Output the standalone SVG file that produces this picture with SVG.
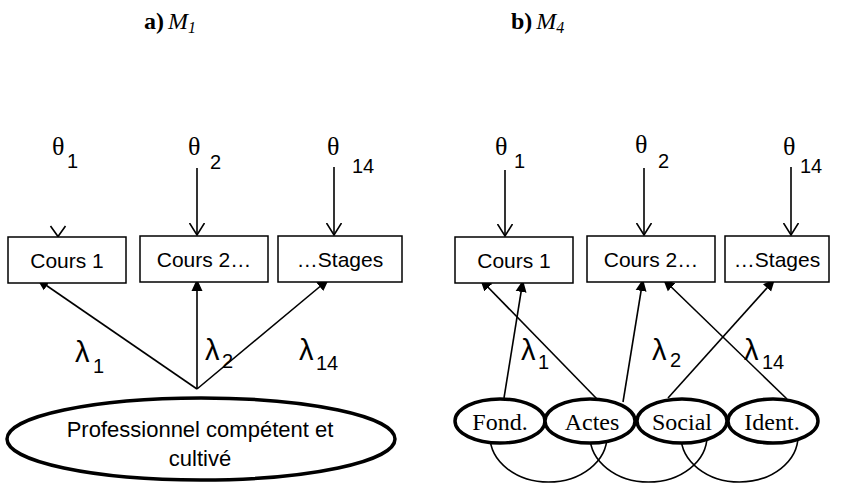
<svg xmlns="http://www.w3.org/2000/svg" width="847" height="483" viewBox="0 0 847 483">
<style>
.box{fill:#fff;stroke:#000;stroke-width:1.5}
.lat{fill:#fff;stroke:#000;stroke-width:3.5}
.ln{stroke:#000;stroke-width:1.6;fill:none}
.sans{font-family:"Liberation Sans",Arial,sans-serif;fill:#000}
.serif{font-family:"Liberation Serif","Times New Roman",serif;fill:#000}
.bt{font-size:21px;text-anchor:middle}
.th{font-size:26px}
.lam{font-size:29px}
.sub{font-size:20px}
.lt{font-size:22px;text-anchor:middle}
.st{font-size:24px;text-anchor:middle}
.title{font-size:24px}
</style>
<defs>
<marker id="open" markerWidth="16" markerHeight="16" refX="12" refY="8" orient="auto" markerUnits="userSpaceOnUse">
<path d="M0,0.5 L12,8 L0,15.5" fill="none" stroke="#000" stroke-width="1.6"/>
</marker>
<marker id="fill" markerWidth="14" markerHeight="12" refX="12" refY="6" orient="auto" markerUnits="userSpaceOnUse">
<path d="M0,0.5 L12,6 L0,11.5 Z" fill="#000"/>
</marker>
</defs>

<g id="titles">
<text class="serif title" x="144" y="29"><tspan font-weight="bold">a)</tspan><tspan font-style="italic" dx="4">M</tspan><tspan font-style="italic" font-size="16" dy="4">1</tspan></text>
<text class="serif title" x="511" y="29"><tspan font-weight="bold">b)</tspan><tspan font-style="italic" dx="4">M</tspan><tspan font-style="italic" font-size="16" dy="4">4</tspan></text>
</g>

<g id="connectors">
<polyline class="ln" points="50.5,226 58,236.5 65.5,226"/>
<line class="ln" x1="197" y1="168" x2="197" y2="235" marker-end="url(#open)"/>
<line class="ln" x1="334" y1="167" x2="334" y2="235" marker-end="url(#open)"/>
<line class="ln" x1="197" y1="389" x2="37" y2="279" marker-end="url(#fill)"/>
<line class="ln" x1="197" y1="389" x2="197" y2="279" marker-end="url(#fill)"/>
<line class="ln" x1="197" y1="389" x2="329" y2="279" marker-end="url(#fill)"/>
<line class="ln" x1="505" y1="170" x2="505" y2="236" marker-end="url(#open)"/>
<line class="ln" x1="644" y1="168" x2="644" y2="235" marker-end="url(#open)"/>
<line class="ln" x1="791" y1="167" x2="791" y2="235" marker-end="url(#open)"/>
<line class="ln" x1="504" y1="398" x2="523" y2="280" marker-end="url(#fill)"/>
<line class="ln" x1="597" y1="399" x2="480" y2="279" marker-end="url(#fill)"/>
<line class="ln" x1="623" y1="402" x2="643" y2="279" marker-end="url(#fill)"/>
<line class="ln" x1="668" y1="398" x2="775" y2="279" marker-end="url(#fill)"/>
<line class="ln" x1="787" y1="399" x2="663" y2="279" marker-end="url(#fill)"/>
<path class="ln" d="M490,436 A58.5,46 0 0 0 607,436"/>
<path class="ln" d="M590,436 A58.5,46 0 0 0 707,436"/>
<path class="ln" d="M681,436 A58.5,46 0 0 0 798,436"/>
</g>

<g id="labels">
<text class="serif th" x="52" y="155">θ</text><text class="sans sub" x="67" y="168">1</text>
<text class="serif th" x="188" y="155">θ</text><text class="sans sub" x="210" y="169">2</text>
<text class="serif th" x="327" y="155">θ</text><text class="sans sub" x="352" y="173">14</text>
<text class="serif th" x="495" y="155">θ</text><text class="sans sub" x="514" y="168">1</text>
<text class="serif th" x="635" y="153">θ</text><text class="sans sub" x="658" y="168">2</text>
<text class="serif th" x="783" y="155">θ</text><text class="sans sub" x="800" y="173">14</text>

<text class="sans lam" x="75" y="362">λ</text><text class="sans sub" x="93" y="373">1</text>
<text class="sans lam" x="205" y="360">λ</text><text class="sans sub" x="222" y="368">2</text>
<text class="sans lam" x="299" y="360">λ</text><text class="sans sub" x="316" y="370">14</text>
<text class="sans lam" x="521" y="360">λ</text><text class="sans sub" x="538" y="369">1</text>
<text class="sans lam" x="652" y="360">λ</text><text class="sans sub" x="670" y="367">2</text>
<text class="sans lam" x="744" y="360">λ</text><text class="sans sub" x="762" y="369">14</text>
</g>

<g id="a-cours1"><rect class="box" x="8" y="237" width="118" height="46"/><text class="sans bt" x="67" y="268">Cours 1</text></g>
<g id="a-cours2"><rect class="box" x="140" y="236" width="128" height="46"/><text class="sans bt" x="204" y="267">Cours 2…</text></g>
<g id="a-stages"><rect class="box" x="278" y="236" width="124" height="46"/><text class="sans bt" x="340" y="267">…Stages</text></g>
<g id="a-prof"><ellipse class="lat" cx="201" cy="439" rx="194" ry="41"/><text class="sans lt" x="200" y="437">Professionnel compétent et</text><text class="sans lt" x="200" y="466">cultivé</text></g>

<g id="b-cours1"><rect class="box" x="455" y="237" width="118" height="46"/><text class="sans bt" x="514" y="268">Cours 1</text></g>
<g id="b-cours2"><rect class="box" x="587" y="236" width="128" height="46"/><text class="sans bt" x="651" y="267">Cours 2…</text></g>
<g id="b-stages"><rect class="box" x="725" y="236" width="104" height="46"/><text class="sans bt" x="777" y="267">…Stages</text></g>

<g id="b-fond"><ellipse class="lat" cx="500" cy="421" rx="45" ry="22"/><text class="serif st" x="500" y="430">Fond.</text></g>
<g id="b-actes"><ellipse class="lat" cx="590" cy="421" rx="45" ry="22"/><text class="serif st" x="592" y="430">Actes</text></g>
<g id="b-social"><ellipse class="lat" cx="682" cy="421" rx="45" ry="22"/><text class="serif st" x="682" y="430">Social</text></g>
<g id="b-ident"><ellipse class="lat" cx="773" cy="421" rx="45" ry="22"/><text class="serif st" x="772" y="430">Ident.</text></g>
</svg>
